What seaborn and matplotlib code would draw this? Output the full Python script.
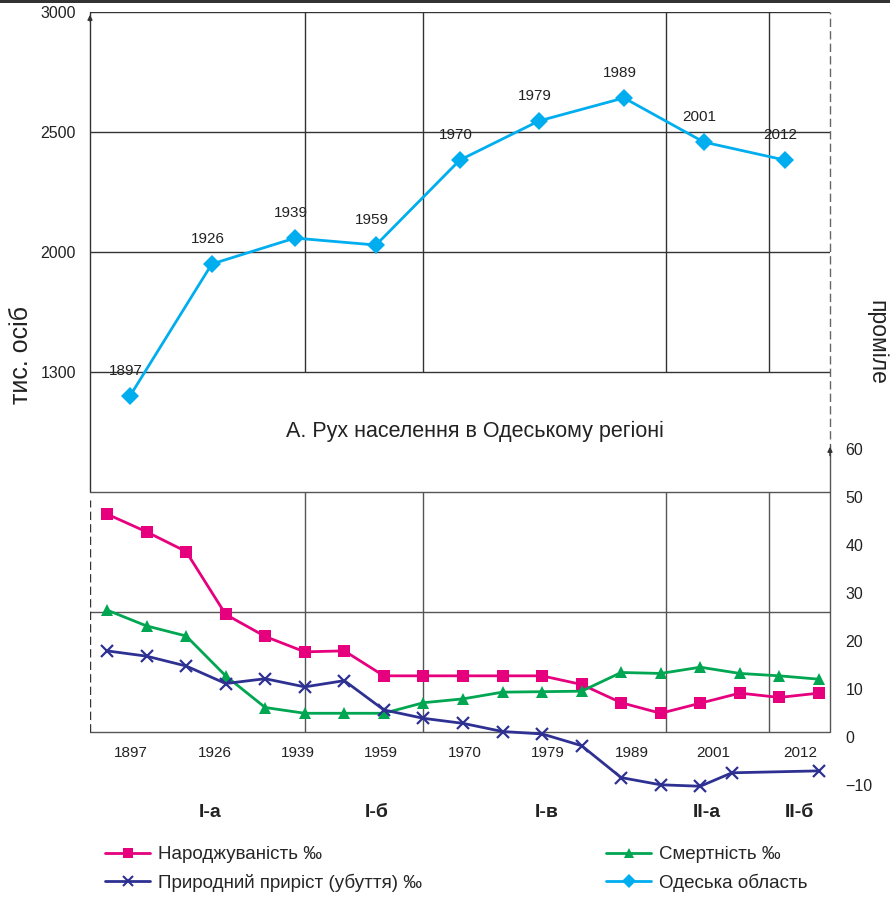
"""Population dynamics of the Odesa region: population and vital rates."""

import matplotlib.pyplot as plt
import matplotlib.transforms as mtransforms
import numpy as np
import pandas as pd
import seaborn as sns
from matplotlib.lines import Line2D
from matplotlib.patches import Rectangle

# population, thousand people (the lowest gridline is labelled 1300)
pop_years = ["1897", "1926", "1939", "1959", "1970", "1979", "1989", "2001", "2012"]
pop_values = [1400, 1950, 2058, 2029, 2383, 2546, 2642, 2458, 2383]
pop_step = [0.58, 2.65, 4.75, 6.80, 8.92, 10.92, 13.07, 15.09, 17.14]
pop_ticks = [1500, 2000, 2500, 3000]
pop_tick_labels = ["1300", "2000", "2500", "3000"]

# vital rates, per mille
rate_step = list(range(19))
birth = [45.4, 41.7, 37.6, 24.5, 19.9, 16.7, 16.9, 11.7, 11.7, 11.7,
         11.7, 11.7, 9.9, 6.1, 3.9, 6.0, 8.1, 7.2, 8.1]
death = [25.4, 22.1, 20.0, 11.7, 5.1, 3.9, 3.9, 3.9, 6.1, 6.9,
         8.3, 8.4, 8.5, 12.4, 12.2, 13.5, 12.2, 11.7, 11.0]
natural_step = list(range(16)) + [15.8, 18]
natural = [16.9, 15.8, 13.75, 10.1, 11.1, 9.4, 10.7, 4.6, 2.85,
           1.8, 0.1, -0.4, -2.85, -9.5, -11.0, -11.3, -8.5, -8.1]
rate_ticks = [-10, 0, 10, 20, 30, 40, 50, 60]
rate_lines = [0, 25, 50]

# x axis labels and periods
year_tick_step = [0.61, 2.73, 4.83, 6.93, 9.05, 11.15, 13.27, 15.34, 17.52]
period_bounds = [5.0, 7.99, 14.14, 16.73]
period_labels = ["І-а", "І-б", "І-в", "ІІ-а", "ІІ-б"]
period_step = [2.6, 6.83, 11.12, 15.17, 17.5]

PINK = "#E6007E"
GREEN = "#00A651"
NAVY = "#2E3192"
CYAN = "#00AEEF"
GRID = "#333333"
TEXT = "#222222"

sns.set_theme(style="white")
plt.rcParams["font.family"] = ["Liberation Sans", "DejaVu Sans"]

fig = plt.figure(figsize=(8.9, 9.0), dpi=100)
ax = fig.add_axes([0.10112, 0.12267, 0.83146, 0.864])
ax_r = ax.twinx()
for a in (ax, ax_r):
    for s in a.spines.values():
        s.set_visible(False)

xlim = (-0.43, 18.28)
ax.set_xlim(xlim)
ax.set_ylim(-240, 3000)
ax_r.set_ylim(-12, 150)

# frame of the population panel
for v in pop_ticks:
    ax.axhline(v, color=GRID, lw=1.0, zorder=1)
ax.vlines(period_bounds, pop_ticks[0], pop_ticks[-1], color=GRID, lw=1.0, zorder=1)

# frame of the rates panel
for v in rate_lines:
    ax_r.axhline(v, color="#555555", lw=1.0, zorder=1)
ax_r.vlines(period_bounds, 0, 50, color="#555555", lw=1.0, zorder=1)

# axes with arrows, dashed parts
ax.plot([xlim[0]] * 2, [1000, 3000], color=GRID, lw=1.0, clip_on=False)
ax.annotate("", xy=(xlim[0], 3000), xytext=(xlim[0], 2950),
            arrowprops=dict(arrowstyle="-|>", color=GRID, lw=1.0, mutation_scale=7),
            annotation_clip=False)
ax_r.plot([xlim[0]] * 2, [0, 48.3], color=GRID, lw=1.0, ls=(0, (6, 3)))
ax_r.plot([xlim[1]] * 2, [0, 60], color="#555555", lw=1.0, clip_on=False)
ax_r.annotate("", xy=(xlim[1], 60), xytext=(xlim[1], 57),
              arrowprops=dict(arrowstyle="-|>", color=GRID, lw=1.0, mutation_scale=7),
              annotation_clip=False)
ax_r.plot([xlim[1]] * 2, [61, 150], color="#666666", lw=1.0, ls=(0, (6, 3)),
          clip_on=False)

# population series
sns.lineplot(x=pop_step, y=pop_values, ax=ax, color=CYAN, lw=2.0, marker="D",
             markersize=9, markeredgewidth=0, zorder=4, clip_on=False)
for xs, v, lab in zip(pop_step, pop_values, pop_years):
    ax.annotate(lab, (xs, v), xytext=(-3, 13), textcoords="offset points",
                ha="center", va="bottom", fontsize=11, color=TEXT)

# rates
df_rates = pd.DataFrame({"step": rate_step, "birth": birth, "death": death})
df_nat = pd.DataFrame({"step": natural_step, "natural": natural})
sns.lineplot(data=df_rates, x="step", y="birth", ax=ax_r, color=PINK, lw=2.0,
             marker="s", markersize=8.5, markeredgewidth=0, zorder=4, clip_on=False)
sns.lineplot(data=df_rates, x="step", y="death", ax=ax_r, color=GREEN, lw=2.0,
             marker="^", markersize=8.5, markeredgewidth=0, zorder=4, clip_on=False)
sns.lineplot(data=df_nat, x="step", y="natural", ax=ax_r, color=NAVY, lw=2.0,
             marker="x", markersize=8, markeredgewidth=1.6, markeredgecolor=NAVY,
             zorder=4, clip_on=False)

# ticks
ax.set_yticks(pop_ticks, labels=pop_tick_labels)
ax.tick_params(axis="y", length=0, left=False, right=False, labelleft=True,
               labelright=False, pad=10, labelsize=11.5, labelcolor=TEXT)
ax.set_xticks([])
ax_r.set_yticks(rate_ticks, labels=[str(t).replace("-", "\u2212") for t in rate_ticks])
ax_r.tick_params(axis="y", length=0, right=False, left=False, labelright=True,
                 labelleft=False, pad=11, labelsize=11.5, labelcolor=TEXT)
shift = mtransforms.ScaledTranslation(0, -5 / 100, fig.dpi_scale_trans)
for lab in ax_r.get_yticklabels():
    lab.set_transform(lab.get_transform() + shift)
ax.set_xlabel("")
ax.set_ylabel("")
ax_r.set_xlabel("")
ax_r.set_ylabel("")

sec = ax_r.secondary_xaxis(0, transform=ax_r.transData)
sec.set_xticks(year_tick_step, labels=pop_years)
sec.tick_params(axis="x", length=0, pad=10, labelsize=11, labelcolor=TEXT)
for s in sec.spines.values():
    s.set_visible(False)

# periods
for xs, lab in zip(period_step, period_labels):
    ax_r.text(xs, -16.7, lab, ha="center", va="center", fontsize=14,
              fontweight="bold", color=TEXT)

ax.text(0.52, 0.46, "А. Рух населення в Одеському регіоні", transform=ax.transAxes,
        ha="center", va="center", fontsize=15.5, color=TEXT)

fig.text(0.024, 0.605, "тис. осіб", rotation=90, ha="center", va="center",
         fontsize=18, color=TEXT)
fig.text(0.985, 0.62, "проміле", rotation=-90, ha="center", va="center",
         fontsize=16.5, color=TEXT)

# legends
h_birth = Line2D([], [], color=PINK, lw=2, marker="s", markersize=7, markeredgewidth=0)
h_death = Line2D([], [], color=GREEN, lw=2, marker="^", markersize=7, markeredgewidth=0)
h_nat = Line2D([], [], color=NAVY, lw=2, marker="x", markersize=7, markeredgewidth=1.5)
h_pop = Line2D([], [], color=CYAN, lw=2, marker="D", markersize=7, markeredgewidth=0)
leg_kw = dict(frameon=False, fontsize=13.5, handlelength=2.4, handletextpad=0.45,
              labelspacing=0.55, borderaxespad=0, borderpad=0)
fig.legend([h_birth, h_nat], ["Народжуваність ‰", "Природний приріст (убуття) ‰"],
           loc="upper left", bbox_to_anchor=(105 / 890, 1 - 846 / 900), **leg_kw)
fig.legend([h_death, h_pop], ["Смертність ‰", "Одеська область"],
           loc="upper left", bbox_to_anchor=(606 / 890, 1 - 846 / 900), **leg_kw)

fig.add_artist(Rectangle((0, 1 - 2.5 / 900), 1, 2.5 / 900, transform=fig.transFigure,
                         color="#333333", lw=0))

fig.savefig("out.png", dpi=100)
